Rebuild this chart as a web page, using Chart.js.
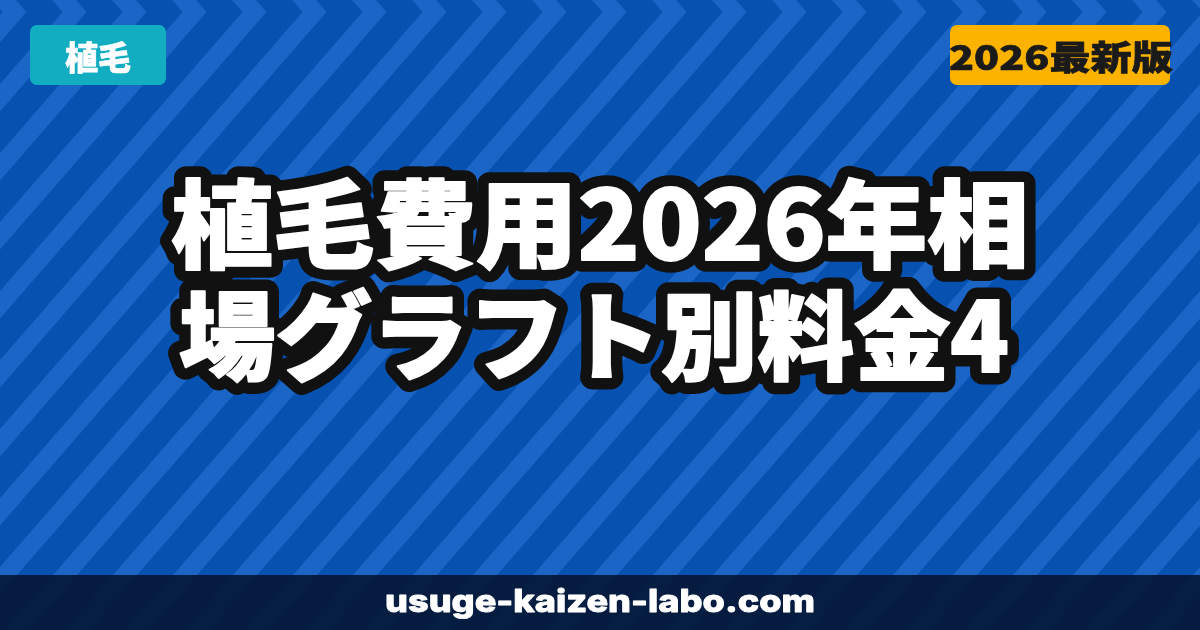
<!DOCTYPE html>
<html lang="ja">
<head>
<meta charset="utf-8">
<title>植毛費用2026年相場グラフト別料金4</title>
<script src="https://cdn.jsdelivr.net/npm/chart.js@4"></script>
<style>
  html, body { margin: 0; padding: 0; background: #0850b0; }
  #card { display: block; width: 1200px; height: 630px; }
</style>
</head>
<body>
<canvas id="card" width="1200" height="630"></canvas>
<script>
// texts of the card
const titleLines = ["植毛費用2026年相", "場グラフト別料金4"];
const badgeTexts = ["植毛", "2026最新版"];
const footerTexts = ["usuge-kaizen-labo.com"];

const CJK = "'Noto Sans CJK JP', 'Noto Sans', sans-serif";

function roundRect(ctx, x, y, w, h, r, fill) {
  ctx.beginPath();
  ctx.moveTo(x + r, y);
  ctx.arcTo(x + w, y, x + w, y + h, r);
  ctx.arcTo(x + w, y + h, x, y + h, r);
  ctx.arcTo(x, y + h, x, y, r);
  ctx.arcTo(x, y, x + w, y, r);
  ctx.closePath();
  ctx.fillStyle = fill;
  ctx.fill();
}

// "/" stripes, with a thin ">" band along the top edge
function drawStripes(ctx, w, h) {
  const period = 60, band = 24, tip = 12, k = 1.15, start = 13;
  ctx.fillStyle = "#0751b1";
  ctx.fillRect(0, 0, w, h);
  ctx.fillStyle = "#1b65c6";
  ctx.save();
  ctx.beginPath();
  ctx.rect(0, tip, w, h - tip);
  ctx.clip();
  for (let c = start - period; c < w + h / k + period; c += period) {
    ctx.beginPath();
    ctx.moveTo(c, 0);
    ctx.lineTo(c + band, 0);
    ctx.lineTo(c + band - h / k, h);
    ctx.lineTo(c - h / k, h);
    ctx.closePath();
    ctx.fill();
  }
  ctx.restore();
  ctx.save();
  ctx.beginPath();
  ctx.rect(0, 0, w, tip);
  ctx.clip();
  const d = 2 * tip / k;
  for (let c = start - period; c < w + period; c += period) {
    ctx.beginPath();
    ctx.moveTo(c - d, 0);
    ctx.lineTo(c + band - d, 0);
    ctx.lineTo(c + band, 2 * tip);
    ctx.lineTo(c, 2 * tip);
    ctx.closePath();
    ctx.fill();
  }
  ctx.restore();
}

// text scaled to a target width; "bold" adds a same-colour stroke to thicken glyphs
function fitText(ctx, text, cx, cy, targetW, opts) {
  ctx.save();
  ctx.font = opts.font;
  ctx.textAlign = "center";
  ctx.textBaseline = "middle";
  ctx.lineJoin = "round";
  const m = ctx.measureText(text).width;
  const sx = targetW ? targetW / m : 1;
  ctx.translate(cx, cy);
  ctx.scale(sx, 1);
  if (opts.stroke) {
    ctx.lineWidth = opts.strokeWidth / sx;
    ctx.strokeStyle = opts.stroke;
    ctx.strokeText(text, 0, 0);
  }
  if (opts.bold) {
    ctx.lineWidth = opts.bold / sx;
    ctx.strokeStyle = opts.fill;
    ctx.strokeText(text, 0, 0);
  }
  ctx.fillStyle = opts.fill;
  ctx.fillText(text, 0, 0);
  ctx.restore();
}

const cardPlugin = {
  id: "card",
  beforeDraw(chart) {
    const ctx = chart.ctx;
    const w = chart.width, h = chart.height;
    ctx.save();
    drawStripes(ctx, w, h);

    // footer bar
    ctx.fillStyle = "rgba(6, 22, 52, 0.9)";
    ctx.fillRect(0, 575, w, h - 575);
    ctx.restore();
  },
  afterDraw(chart) {
    const ctx = chart.ctx;
    ctx.save();

    // badges
    roundRect(ctx, 30, 25, 136, 60, 7, "#13adc1");
    fitText(ctx, badgeTexts[0], 98, 57, 0, { font: "900 33px " + CJK, fill: "#ffffff", bold: 0.6 });
    roundRect(ctx, 950, 25, 220, 60, 7, "#fbb300");
    fitText(ctx, badgeTexts[1], 1061, 57, 224, { font: "900 34px " + CJK, fill: "#1a1a1a", bold: 0.8 });

    // title with black outline
    fitText(ctx, titleLines[0], 600, 224, 858, {
      font: "900 96px " + CJK, fill: "#ffffff", stroke: "#111111", strokeWidth: 25, bold: 2
    });
    fitText(ctx, titleLines[1], 594, 336, 830, {
      font: "900 96px " + CJK, fill: "#ffffff", stroke: "#111111", strokeWidth: 25, bold: 2
    });

    // footer url
    fitText(ctx, footerTexts[0], 600, 603, 430, {
      font: "800 31px Inter, 'Noto Sans', sans-serif", fill: "#ffffff", bold: 1
    });
    ctx.restore();
  }
};

new Chart(document.getElementById("card"), {
  type: "bar",
  data: { labels: [], datasets: [] },
  options: {
    responsive: false,
    animation: false,
    devicePixelRatio: 1,
    layout: { padding: 0 },
    plugins: { legend: { display: false }, tooltip: { enabled: false }, title: { display: false } },
    scales: { x: { display: false }, y: { display: false } }
  },
  plugins: [cardPlugin]
});
</script>
</body>
</html>
